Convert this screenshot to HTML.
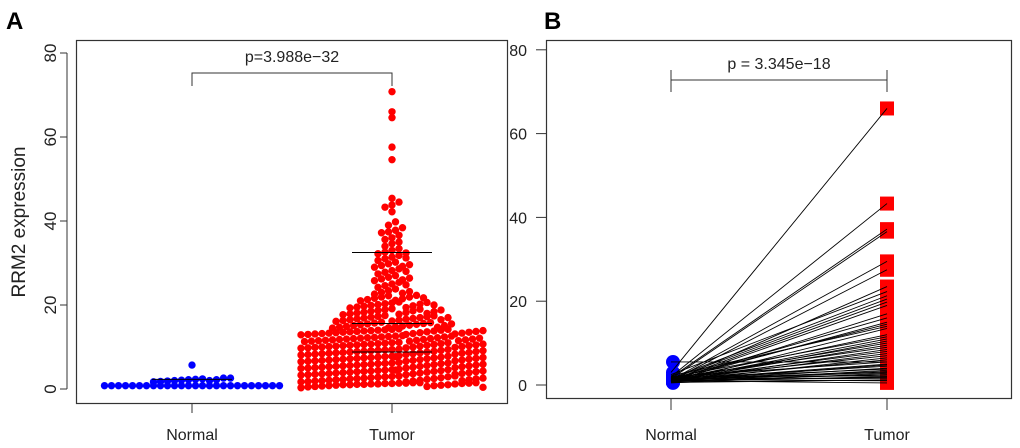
<!DOCTYPE html>
<html><head><meta charset="utf-8"><style>
body{margin:0;background:#fff;}
svg{display:block;font-family:"Liberation Sans",Arial,sans-serif;}
</style></head><body>
<svg id="c" width="1020" height="448" viewBox="0 0 1020 448">
<text x="6" y="29" font-size="24" font-weight="bold">A</text>
<text x="544" y="29" font-size="24" font-weight="bold">B</text>
<g id="pa"></g>
<g id="pb"></g>
</svg>
<script>
const categories=["Normal","Tumor"];
const yTicks=[0,20,40,60,80];
const normalA=[0.8,0.8,0.8,0.8,0.8,0.8,0.8,0.8,0.8,0.8,0.8,0.8,0.8,0.8,0.8,0.8,0.8,0.8,0.8,0.8,0.8,0.8,0.8,0.8,0.8,0.8,1.7,1.8,1.9,2.0,2.1,2.2,2.3,2.4,2.0,2.2,2.6,2.6,5.7];
const tumorA=[
0.3,0.5,0.6,0.7,0.8,0.9,1.0,1.0,1.1,1.1,1.2,1.2,1.3,1.3,1.4,1.4,1.5,1.5,0.6,0.8,0.9,1.0,1.2,1.3,1.4,1.5,0.4,
1.7,1.8,1.9,2.0,2.1,2.2,2.3,2.4,2.5,2.6,2.7,2.8,2.9,3.0,3.1,1.7,1.9,2.1,2.3,2.5,2.7,2.9,3.1,2.0,2.2,2.4,2.6,
3.3,3.4,3.5,3.6,3.7,3.8,3.9,4.0,4.1,4.2,4.3,4.4,4.5,4.6,4.7,3.4,3.6,3.8,4.0,4.2,4.4,4.6,3.5,3.7,3.9,4.1,4.3,4.5,
4.9,5.0,5.1,5.2,5.3,5.4,5.5,5.6,5.7,5.8,5.9,6.0,6.1,6.2,6.3,5.0,5.2,5.4,5.6,5.8,6.0,6.2,5.1,5.3,5.5,5.7,5.9,
6.5,6.6,6.7,6.8,6.9,7.0,7.1,7.2,7.3,7.4,7.5,7.6,7.7,7.8,7.9,6.6,6.8,7.0,7.2,7.4,7.6,7.8,6.7,6.9,7.1,7.3,7.5,7.7,
8.1,8.2,8.3,8.4,8.5,8.6,8.7,8.8,8.9,9.0,9.1,9.2,9.3,9.4,9.5,8.2,8.4,8.6,8.8,9.0,9.2,9.4,8.3,8.5,8.7,8.9,9.1,
9.7,9.8,9.9,10.0,10.1,10.2,10.3,10.4,10.5,10.6,10.7,10.8,10.9,11.0,11.1,9.8,10.0,10.2,10.4,10.6,10.8,11.0,9.9,10.1,10.3,10.5,10.7,
11.3,11.4,11.5,11.6,11.7,11.8,11.9,12.0,12.1,12.2,12.3,12.4,12.5,12.6,12.7,11.4,11.6,11.8,12.0,12.2,12.4,12.6,11.5,11.7,11.9,12.1,
12.9,13.0,13.1,13.2,13.3,13.4,13.5,13.6,13.7,13.8,13.9,14.0,14.1,14.2,14.3,13.0,13.2,13.4,13.6,13.8,14.0,14.2,13.1,13.3,13.5,13.7,13.9,
14.5,14.7,14.9,15.1,15.3,15.5,15.7,15.9,14.6,14.8,15.0,15.2,15.4,15.6,15.8,14.7,15.1,15.5,
16.1,16.3,16.5,16.7,16.9,17.1,17.3,17.5,16.2,16.4,16.6,16.8,17.0,17.2,17.4,16.5,17.0,
17.7,17.9,18.1,18.3,18.5,18.7,18.9,19.1,17.8,18.2,18.6,19.0,18.0,18.4,18.8,
19.3,19.5,19.7,19.9,20.1,20.3,20.5,20.7,19.4,19.8,20.2,20.6,20.0,
21.0,21.3,21.6,21.9,22.2,21.1,21.5,21.9,22.3,21.7,
22.6,23.0,23.4,23.8,22.8,23.2,24.2,24.6,25.0,25.4,24.8,
25.8,26.2,26.6,27.0,26.0,26.4,27.4,27.8,28.2,28.6,28.0,
29.0,29.4,29.8,30.2,29.2,29.6,30.6,31.0,31.4,31.8,31.2,
32.2,32.6,33.0,33.4,32.4,34.0,34.6,35.0,35.6,36.0,36.6,37.2,37.4,37.8,38.4,39.0,39.8,42.2,43.3,43.8,44.5,45.4,54.6,57.6,64.6,66.0,70.8];
const tumorLines=[32.5,15.6,8.8];
const normalLines=[2.3];
const pairNormal=[5.5,3.0,2.0,1.8,1.5,1.2,1.0,0.8,2.5,1.6,1.4,1.1,0.9,0.7,1.3,1.0,1.5,2.2,0.6,1.2,1.8,1.0,0.8,1.4,1.1,1.7,0.9,1.3,1.0,1.5,0.8,1.2,2.0,1.1,0.9,1.4,1.0,1.6,0.7,1.3,1.2,0.5,1.0,1.9,0.8,1.1,1.5,0.6,1.3,1.0];
const pairTumor=[5.5,66.0,43.3,37.2,36.6,29.5,27.5,23.5,22.3,21.3,20.5,19.8,19.0,17.0,16.0,15.0,14.5,14.0,13.5,12.0,11.5,11.0,10.5,10.0,9.5,9.0,8.5,8.0,7.5,7.0,6.5,6.0,5.5,5.0,4.8,4.5,4.0,3.8,3.5,3.2,3.0,2.8,2.5,2.2,2.0,1.8,1.5,1.2,1.0,0.5];
const NS="http://www.w3.org/2000/svg";
function mk(p,t,a,name){const e=document.createElementNS(NS,t);for(const k in a)e.setAttribute(k,a[k]);


p.appendChild(e);return e;}
// Panel A
const A=document.getElementById('pa');
const ya=v=>389-v*4.2;
const xa={Normal:192,Tumor:392};
mk(A,'rect',{x:76.5,y:40.5,width:431,height:363,fill:'none',stroke:'#333','stroke-width':1.2},'plot-frame-a');
mk(A,'line',{x1:67,x2:67,y1:ya(0),y2:ya(80),stroke:'#333'},'y-axis-a');
yTicks.forEach(t=>{mk(A,'line',{x1:60,x2:67,y1:ya(t),y2:ya(t),stroke:'#333'},'y-tick-a');
const tx=mk(A,'text',{x:56,y:ya(t),'font-size':17,'text-anchor':'middle',transform:`rotate(-90 56 ${ya(t)})`,fill:'#222'},'y-tick-label-a');tx.textContent=t;});
const yt=mk(A,'text',{x:25,y:222,'font-size':19,'text-anchor':'middle',transform:'rotate(-90 25 222)',fill:'#222'},'y-axis-title');yt.textContent='RRM2 expression';
categories.forEach(c=>{mk(A,'line',{x1:xa[c],x2:xa[c],y1:403,y2:413,stroke:'#333'},'x-tick-a');
const t=mk(A,'text',{x:xa[c],y:440,'font-size':16,'text-anchor':'middle',fill:'#222'},'x-tick-label-a');t.textContent=c;});
function swarm(vals,cx,color,name,maxRow){
  const bins={};const bh=1.6;
  vals.forEach(v=>{const b=Math.floor(v/bh);(bins[b]=bins[b]||[]).push(v);});
  Object.keys(bins).forEach(b=>{const all=bins[b];
    for(let s=0;s<all.length;s+=maxRow){const arr=all.slice(s,s+maxRow);const n=arr.length;const sh=(s/maxRow)%2?3.5:0;
    arr.forEach((v,i)=>{const off=(i-(n-1)/2)*7+sh;
      mk(A,'circle',{cx:cx+off,cy:ya(v),r:3.7,fill:color},name);});}});
}
swarm(normalA,xa.Normal,'#0000ff','normal-point',26);
swarm(tumorA,xa.Tumor,'#ff0000','tumor-point',27);
tumorLines.forEach(v=>mk(A,'line',{x1:352,x2:432,y1:ya(v),y2:ya(v),stroke:'#000','stroke-width':1},'tumor-summary-line'));
normalLines.forEach(v=>mk(A,'line',{x1:152,x2:232,y1:ya(v),y2:ya(v),stroke:'#000','stroke-width':1},'normal-summary-line'));
mk(A,'path',{d:`M192 86 V73 H392 V86`,fill:'none',stroke:'#333'},'p-bracket-a');
const pa=mk(A,'text',{x:292,y:62,'font-size':16,'text-anchor':'middle',fill:'#222'},'p-value-a');pa.textContent='p=3.988e−32';
// Panel B
const B=document.getElementById('pb');
const yb=v=>385-v*4.19;
const xb={Normal:671,Tumor:887};
mk(B,'rect',{x:546.5,y:40.5,width:465,height:358,fill:'none',stroke:'#333','stroke-width':1.2},'plot-frame-b');
yTicks.forEach(t=>{mk(B,'line',{x1:536,x2:546,y1:yb(t),y2:yb(t),stroke:'#333'},'y-tick-b');
const tx=mk(B,'text',{x:527,y:yb(t)+6,'font-size':16,'text-anchor':'end',fill:'#222'},'y-tick-label-b');tx.textContent=t;});
categories.forEach(c=>{mk(B,'line',{x1:xb[c],x2:xb[c],y1:398,y2:410,stroke:'#333'},'x-tick-b');
const t=mk(B,'text',{x:xb[c],y:440,'font-size':16,'text-anchor':'middle',fill:'#222'},'x-tick-label-b');t.textContent=c;});
pairTumor.forEach(v=>mk(B,'rect',{x:xb.Tumor-7,y:yb(v)-7,width:14,height:14,fill:'#ff0000'},'tumor-square'));
pairNormal.forEach(v=>mk(B,'circle',{cx:xb.Normal+2,cy:yb(v),r:7,fill:'#0000ff'},'normal-circle'));
pairNormal.forEach((v,i)=>mk(B,'line',{x1:xb.Normal,y1:yb(v),x2:xb.Tumor,y2:yb(pairTumor[i]),stroke:'#000','stroke-width':0.9},'pair-line'));
mk(B,'path',{d:`M671 70 V92 M671 80 H887 M887 70 V92`,fill:'none',stroke:'#333'},'p-bracket-b');
const pb=mk(B,'text',{x:779,y:69,'font-size':16,'text-anchor':'middle',fill:'#222'},'p-value-b');pb.textContent='p = 3.345e−18';
</script>
</body></html>
